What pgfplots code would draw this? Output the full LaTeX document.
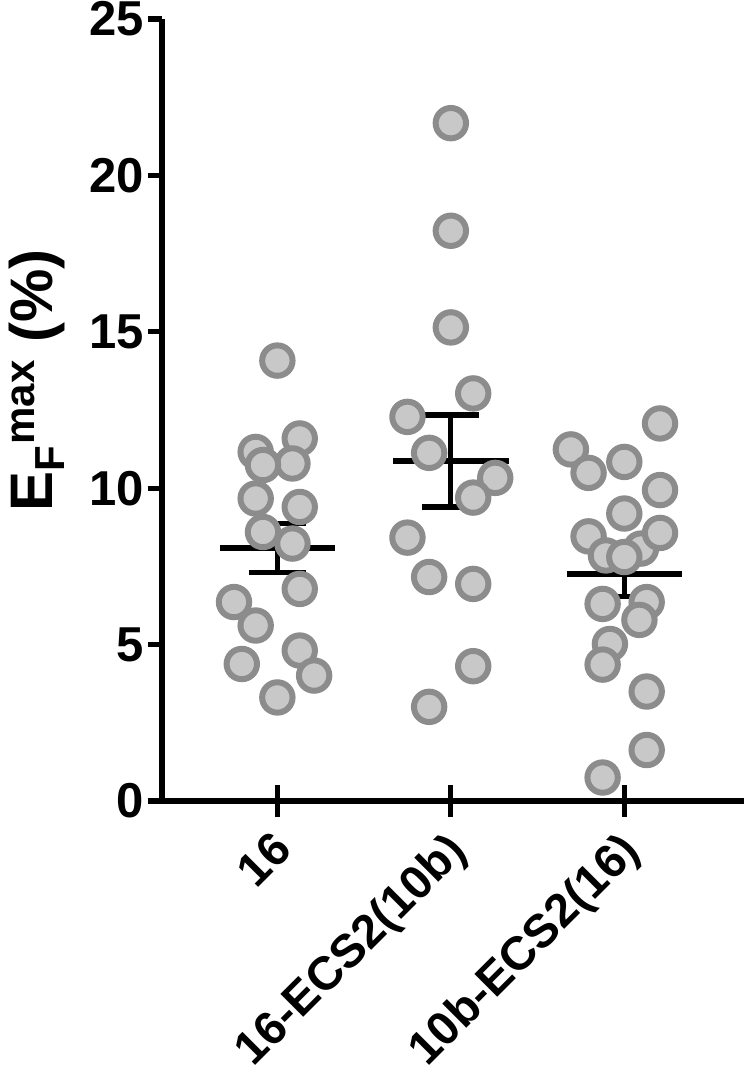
\documentclass[border=0pt]{standalone}
\usepackage{fontspec}
\setmainfont{Liberation Sans}
\usepackage{pgfplots}
\pgfplotsset{compat=1.18}
\definecolor{ptfill}{RGB}{200,200,200}
\definecolor{ptedge}{RGB}{140,140,140}

% individual values, sorted high to low (lower ones are drawn on top)
\newcommand{\groupA}{
(1.000,14.08) (1.129,11.59) (0.875,11.16) (1.087,10.79) (0.917,10.74)
(0.875,9.67) (1.129,9.40) (0.917,8.60) (1.087,8.23) (1.129,6.78)
(0.750,6.36) (0.875,5.61) (1.129,4.81) (0.795,4.38) (1.212,4.01) (1.000,3.31)}
\newcommand{\groupB}{
(2.000,21.67) (2.000,18.23) (2.000,15.14) (2.129,13.03) (1.750,12.28)
(1.875,11.13) (2.256,10.33) (2.129,9.70) (1.750,8.42) (1.875,7.16)
(2.129,6.94) (2.129,4.31) (1.875,3.01)}
\newcommand{\groupC}{
(3.206,12.07) (2.692,11.24) (3.000,10.84) (2.794,10.49) (3.206,9.94)
(3.000,9.19) (3.096,8.07) (3.206,8.57) (2.794,8.46) (2.894,7.85)
(3.000,7.80) (3.129,6.36) (2.875,6.30) (3.087,5.79) (2.917,5.02)
(2.875,4.36) (3.129,3.50) (3.129,1.63) (2.875,0.75)}

\begin{document}
\begin{tikzpicture}
\begin{axis}[
    scale only axis,
    width=291pt, height=391pt,
    xmin=0.335, xmax=3.69,
    ymin=0, ymax=25,
    clip=false,
    axis x line=bottom, axis y line=left,
    axis line style={line width=2.6pt, -},
    tick align=outside,
    xtick={1,2,3},
    xticklabels={16,16-ECS2(10b),10b-ECS2(16)},
    ytick={0,5,10,15,20,25},
    major tick length=7pt,
    y tick style={line width=2.6pt, black},
    x tick style={draw=none},
    yticklabel style={font=\fontsize{24.5}{28}\selectfont\bfseries, inner sep=0pt, xshift=-2pt},
    xticklabel style={font=\fontsize{23.5}{27}\selectfont\bfseries,
      xshift=-3.4pt, yshift=-6.8pt, rotate=45, anchor=north east, inner sep=0pt},
    /pgf/number format/assume math mode=true,
    ylabel={\fontsize{30}{34}\selectfont\bfseries E\textsubscript{F}\textsuperscript{max} (\%)},
    ylabel style={at={(axis description cs:-0.263,0.538)}, anchor=north, inner sep=0pt},
]
\coordinate (O) at (rel axis cs:0,0);
\addplot[only marks, mark=*, mark size=7.6pt,
  mark options={fill=ptfill, draw=ptedge, line width=3pt}] coordinates {\groupA};
\addplot[only marks, mark=*, mark size=7.6pt,
  mark options={fill=ptfill, draw=ptedge, line width=3pt}] coordinates {\groupB};
\addplot[only marks, mark=*, mark size=7.6pt,
  mark options={fill=ptfill, draw=ptedge, line width=3pt}] coordinates {\groupC};
% x ticks crossing the axis
\addplot[black, line width=2.6pt] coordinates {(1,-0.51) (1,0.51)};
\addplot[black, line width=2.6pt] coordinates {(2,-0.51) (2,0.51)};
\addplot[black, line width=2.6pt] coordinates {(3,-0.51) (3,0.51)};
% mean and SEM
\addplot[black, line width=2.6pt] coordinates {(0.667,8.09) (1.333,8.09)};
\addplot[black, line width=2.6pt] coordinates {(1,7.30) (1,8.88)};
\addplot[black, line width=2.6pt] coordinates {(0.835,8.88) (1.165,8.88)};
\addplot[black, line width=2.6pt] coordinates {(0.835,7.30) (1.165,7.30)};
\addplot[black, line width=2.6pt] coordinates {(1.667,10.87) (2.333,10.87)};
\addplot[black, line width=2.6pt] coordinates {(2,9.40) (2,12.34)};
\addplot[black, line width=2.6pt] coordinates {(1.835,12.34) (2.165,12.34)};
\addplot[black, line width=2.6pt] coordinates {(1.835,9.40) (2.165,9.40)};
\addplot[black, line width=2.6pt] coordinates {(2.667,7.26) (3.333,7.26)};
\addplot[black, line width=2.6pt] coordinates {(3,6.53) (3,7.99)};
\addplot[black, line width=2.6pt] coordinates {(2.835,7.99) (3.165,7.99)};
\addplot[black, line width=2.6pt] coordinates {(2.835,6.53) (3.165,6.53)};
\end{axis}
\pgfresetboundingbox
\path[use as bounding box] ([xshift=-81pt,yshift=-137.5pt]O) rectangle ([xshift=292.5pt,yshift=400.5pt]O);
\end{tikzpicture}
\end{document}
